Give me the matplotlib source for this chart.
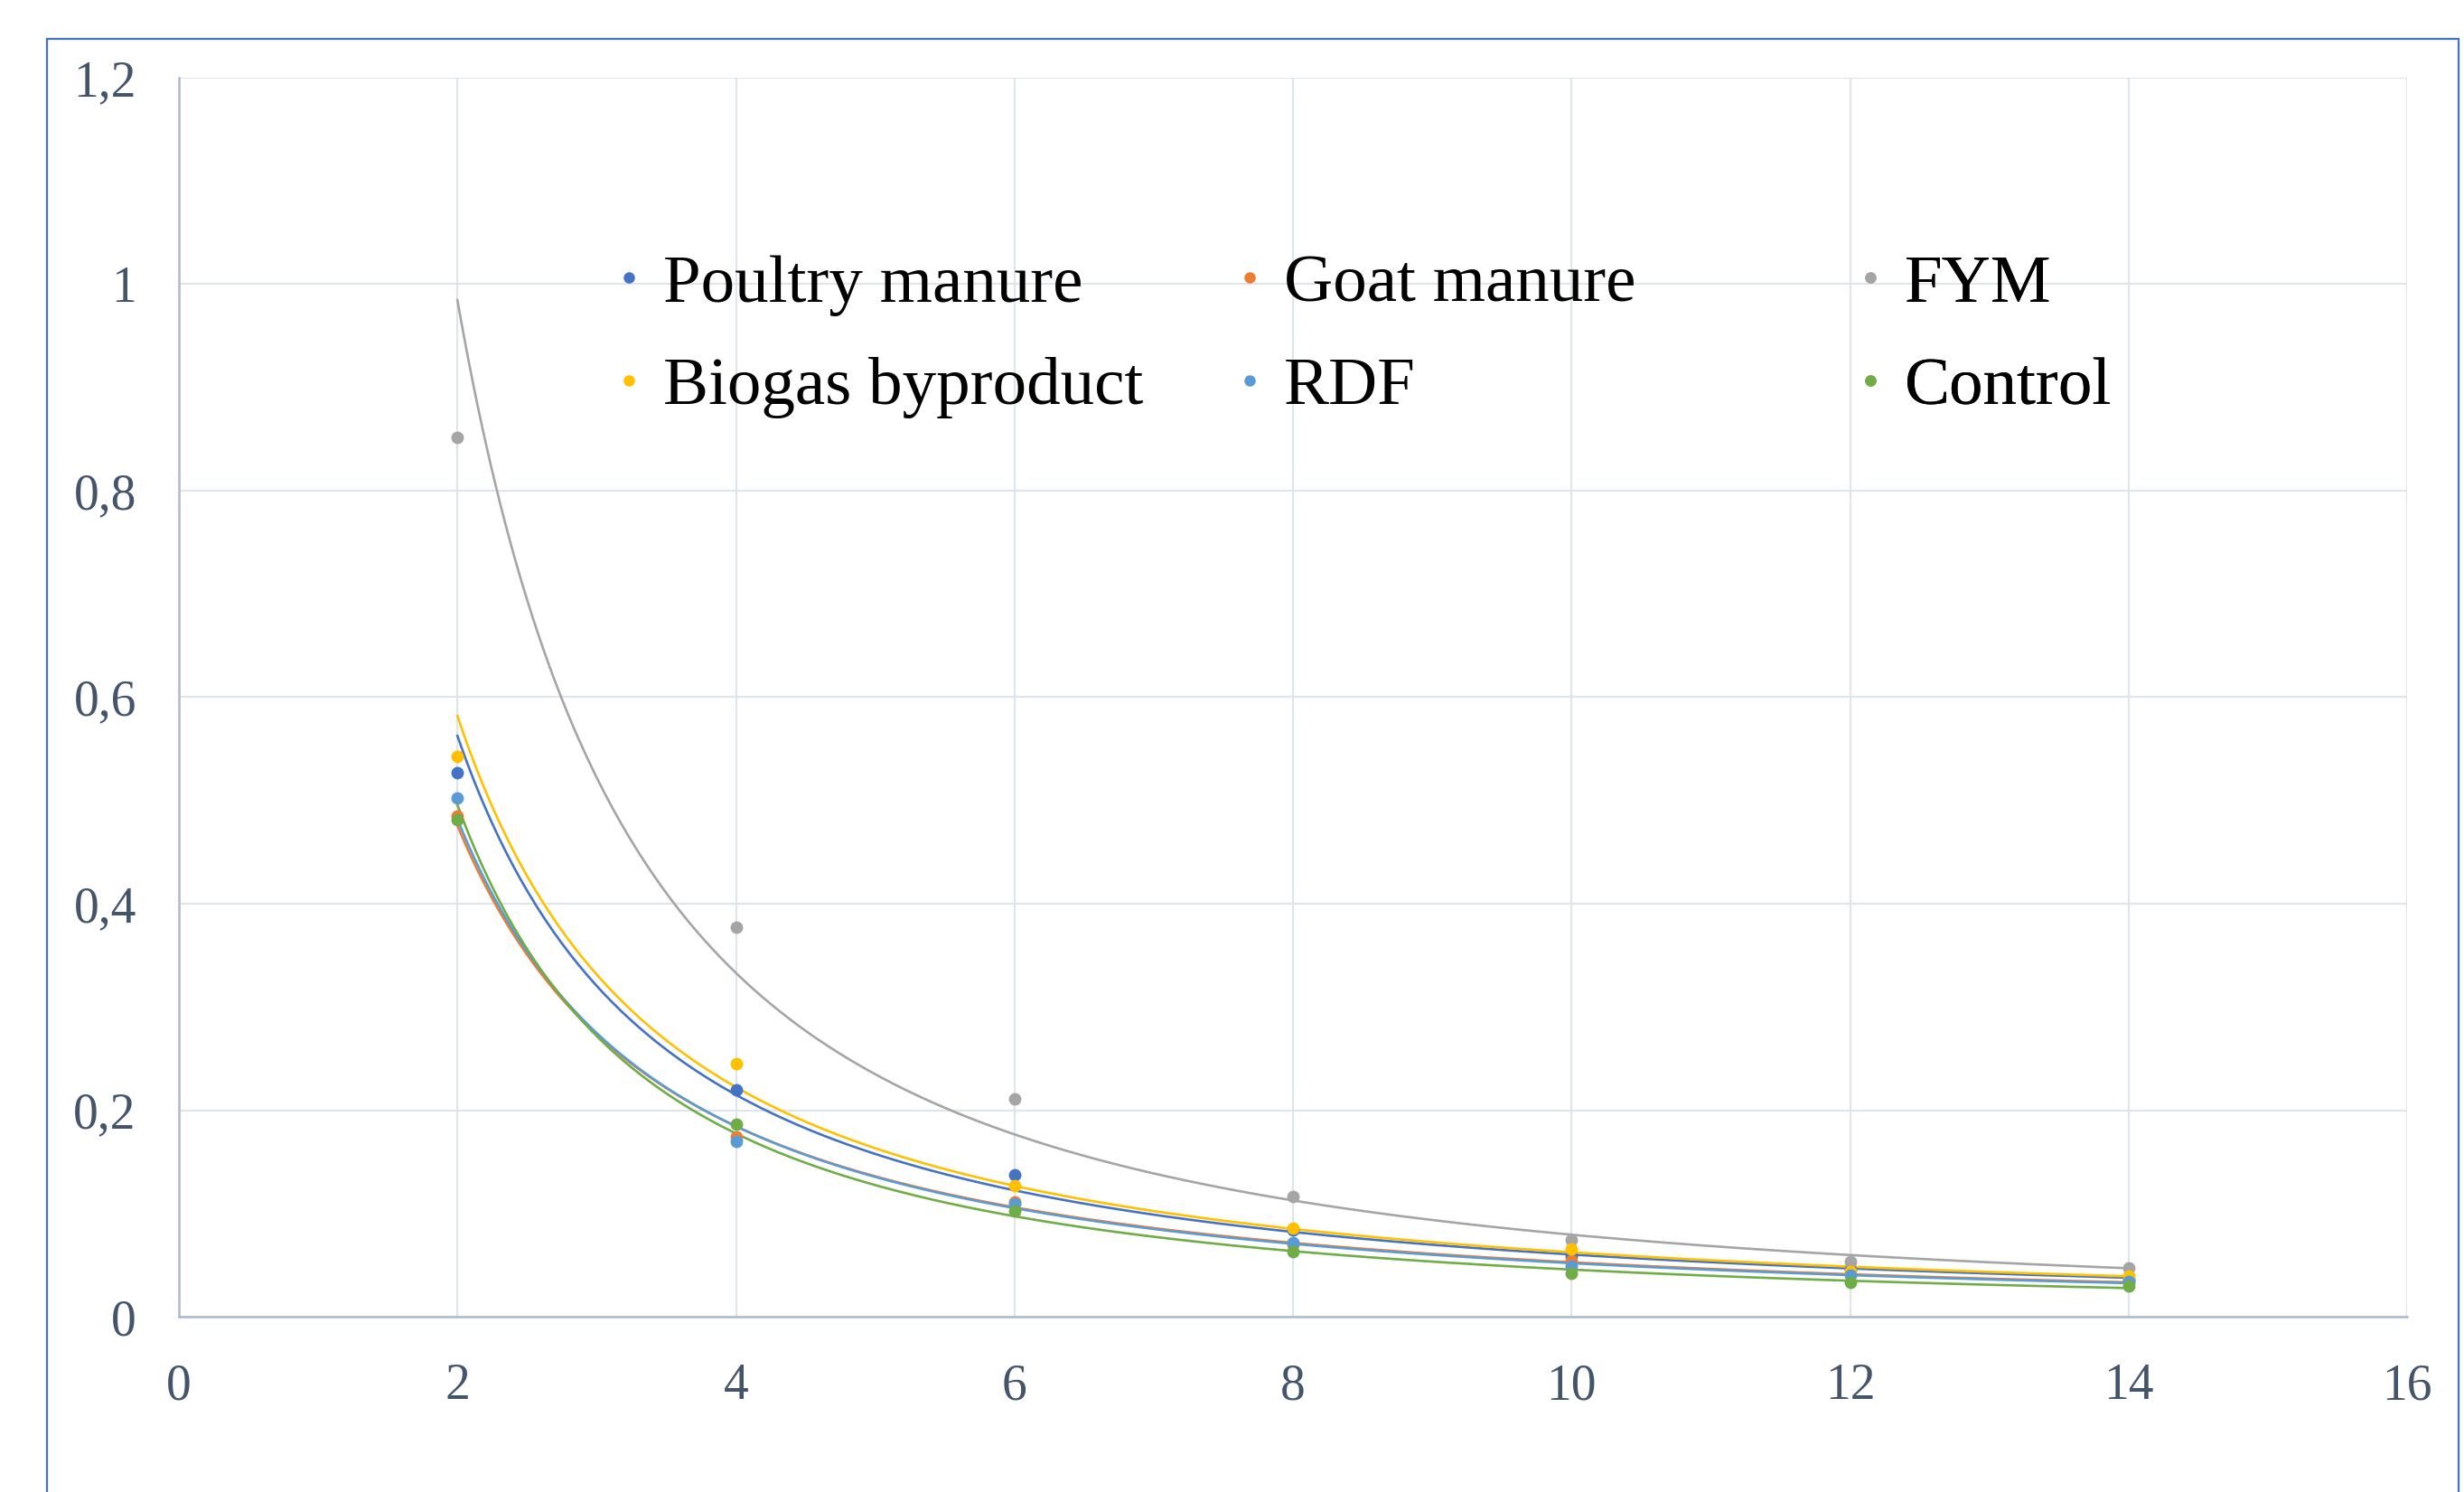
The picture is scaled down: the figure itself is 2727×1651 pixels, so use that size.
import numpy as np
import matplotlib
matplotlib.use("Agg")
import matplotlib.pyplot as plt
from matplotlib.patches import Rectangle
from matplotlib.lines import Line2D

# ---- data ----
days = [2, 4, 6, 8, 10, 12, 14]
poultry = [0.527, 0.220, 0.137, 0.084, 0.059, 0.0455, 0.036]
goat    = [0.485, 0.174, 0.111, 0.070, 0.054, 0.041, 0.033]
fym     = [0.852, 0.377, 0.211, 0.116, 0.074, 0.053, 0.047]
biogas  = [0.543, 0.245, 0.127, 0.086, 0.066, 0.044, 0.039]
rdf     = [0.502, 0.170, 0.109, 0.072, 0.049, 0.040, 0.034]
control = [0.481, 0.186, 0.102, 0.063, 0.042, 0.033, 0.030]

series_names = ["Poultry manure", "Goat manure", "FYM", "Biogas byproduct", "RDF", "Control"]
series_vals = [poultry, goat, fym, biogas, rdf, control]
colors = ["#4472C4", "#ED7D31", "#A5A5A5", "#FFC000", "#5B9BD5", "#70AD47"]

x_ticks = [0, 2, 4, 6, 8, 10, 12, 14, 16]
y_ticks = [0, 0.2, 0.4, 0.6, 0.8, 1.0, 1.2]
y_tick_labels = ["0", "0,2", "0,4", "0,6", "0,8", "1", "1,2"]

W, H = 2727, 1651
fig = plt.figure(figsize=(W / 100, H / 100), dpi=100)
fig.patch.set_facecolor("white")

# outer chart frame
fig.add_artist(Rectangle((52 / W, -0.05), (2721 - 52) / W, 1 - 43 / H + 0.05,
                         transform=fig.transFigure, fill=False,
                         edgecolor="#4472C4", lw=1.6, zorder=0))

AX_L, AX_R, AX_T, AX_B = 198, 2664, 86, 1457
ax = fig.add_axes([AX_L / W, 1 - AX_B / H, (AX_R - AX_L) / W, (AX_B - AX_T) / H])
ax.set_xlim(0, 16)
ax.set_ylim(0, 1.2)

grid_c = "#E0E5EC"
axis_c = "#ADB9CA"
tick_c = "#44546A"

ax.set_xticks(x_ticks)
ax.set_yticks(y_ticks)
ax.set_yticklabels(y_tick_labels)
ax.grid(True, color=grid_c, lw=1.6, zorder=0)
for s in ["top", "right"]:
    ax.spines[s].set_visible(False)
for s in ["left", "bottom"]:
    ax.spines[s].set_color(axis_c)
    ax.spines[s].set_linewidth(1.8)
ax.tick_params(length=0, colors=tick_c, labelsize=40)
ax.tick_params(axis="y", pad=34)
ax.tick_params(axis="x", pad=37)
for lab in ax.get_xticklabels() + ax.get_yticklabels():
    lab.set_fontfamily("Liberation Serif")
    lab.set_color(tick_c)

xd = np.array(days, dtype=float)
xs = np.linspace(2, 14, 400)
handles = []
for name, vals, c in zip(series_names, series_vals, colors):
    yv = np.array(vals)
    # power trendline (least squares in log-log space)
    b, lna = np.polyfit(np.log(xd), np.log(yv), 1)
    ax.plot(xs, np.exp(lna) * xs ** b, color=c, lw=1.9, zorder=2)
    ax.plot(xd, yv, "o", color=c, ms=10, mec="none", zorder=3)
    handles.append(Line2D([], [], ls="none", marker="o", color=c, ms=9, mec="none"))

# legend: three columns (Poultry/Biogas, Goat/RDF, FYM/Control)
col_groups = [[0, 3], [1, 4], [2, 5]]
col_x = [679, 1366, 2053]
leg_top = 281
for grp, xpx in zip(col_groups, col_x):
    leg = ax.legend([handles[i] for i in grp], [series_names[i] for i in grp],
                    loc="upper left",
                    bbox_to_anchor=((xpx - AX_L) / (AX_R - AX_L), (AX_B - leg_top) / (AX_B - AX_T)),
                    frameon=False, prop={"family": "Liberation Serif", "size": 54},
                    handlelength=0.45, handletextpad=0.28,
                    labelspacing=0.6, borderaxespad=0, borderpad=0)
    for t in leg.get_texts():
        t.set_color("black")
    ax.add_artist(leg)

fig.savefig("out.png", dpi=100, facecolor="white")
